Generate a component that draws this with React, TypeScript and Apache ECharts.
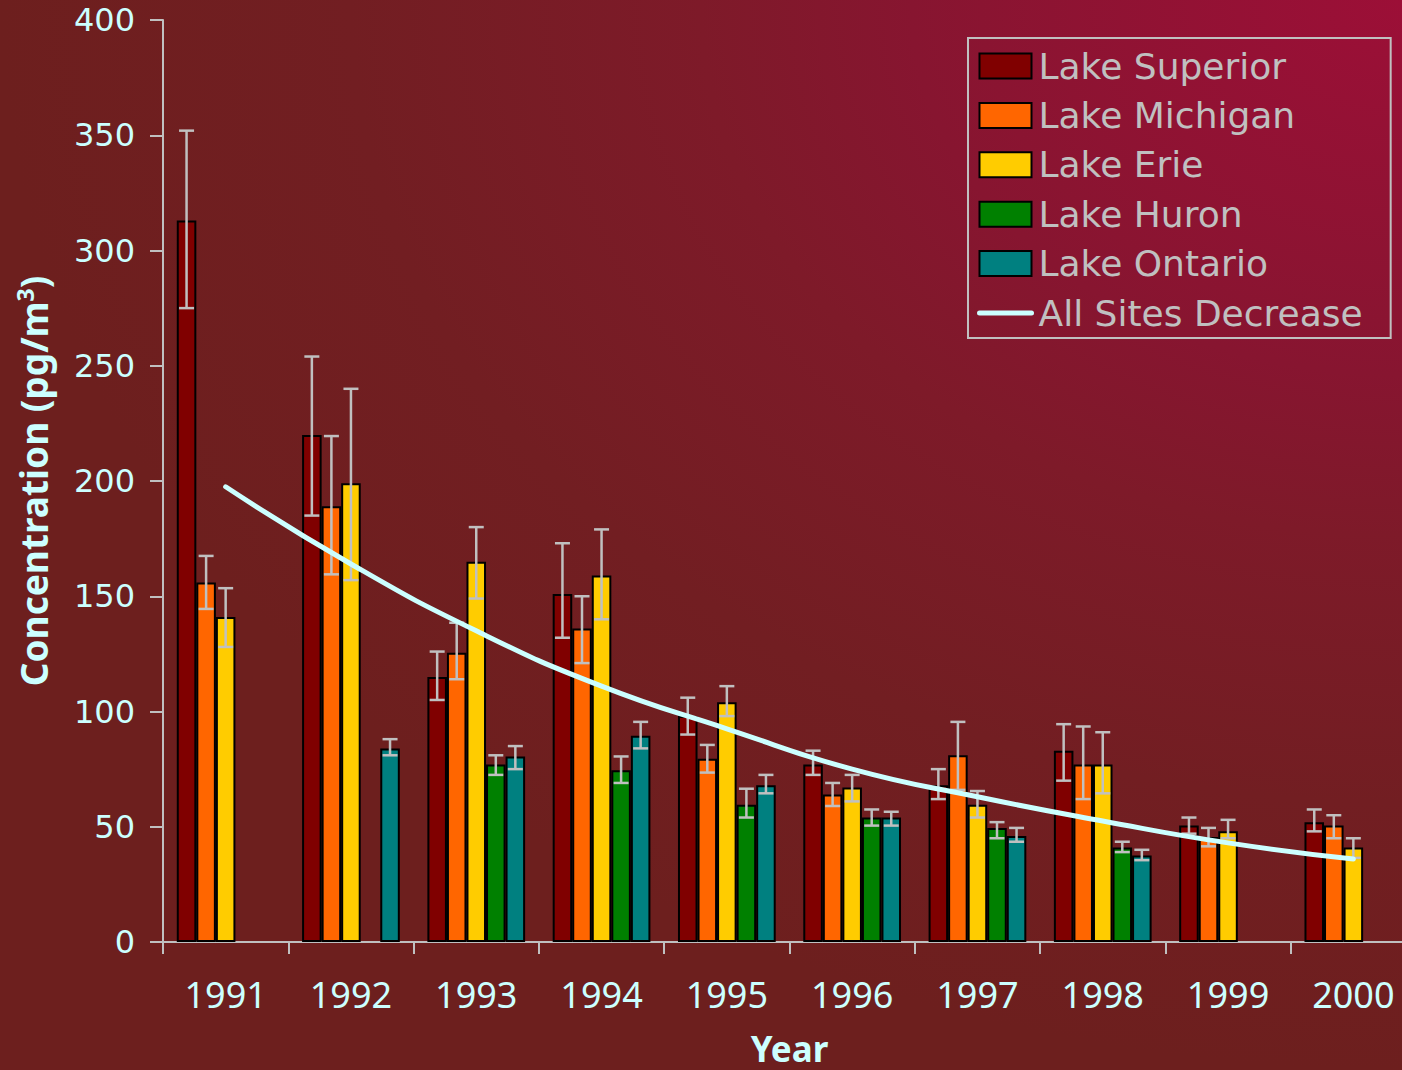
import React, { useEffect, useRef } from "react";
import * as echarts from "echarts";

const years = ["1991", "1992", "1993", "1994", "1995", "1996", "1997", "1998", "1999", "2000"];

const superior = [313, 220, 115, 151, 98, 77, 68, 83, 50.5, 52];
const superiorLow = [275, 185, 105, 132, 90, 72.5, 62, 70, 47, 48];
const superiorHigh = [352, 254, 126, 173, 106, 83, 75, 94.5, 54, 57.5];

const michigan = [156, 189, 125.5, 136, 79.5, 64, 81, 77, 45.5, 50.5];
const michiganLow = [144.5, 159.5, 114, 121, 73.5, 59, 66, 62, 41.5, 45];
const michiganHigh = [167.5, 219.5, 138.5, 150, 85.5, 69, 95.5, 93.5, 49.5, 55];

const erie = [141, 199, 165, 159, 104, 67, 59.5, 77, 48, 41];
const erieLow = [128, 157, 149, 140, 98, 61, 54, 64.5, 45, 36.5];
const erieHigh = [153.5, 240, 180, 179, 111, 72.5, 65.5, 91, 53, 45];

const huron = [null, null, 77, 74.5, 59.5, 54, 49.5, 41, null, null];
const huronLow = [null, null, 72.5, 69, 54, 50.5, 45, 39, null, null];
const huronHigh = [null, null, 81, 80.5, 66.5, 57.5, 52, 43.5, null, null];

const ontario = [null, 84, 80.5, 89.5, 68, 54, 46, 37.5, null, null];
const ontarioLow = [null, 81, 75, 84, 64.5, 50.5, 43.5, 35.5, null, null];
const ontarioHigh = [null, 88, 85, 95.5, 72.5, 56.5, 49.5, 40, null, null];

const trend = [197.5, 164, 135, 111, 92.5, 75, 63, 52.5, 43, 36];

const yTicks = { min: 0, max: 400, interval: 50 };

const lakes = [
  { name: "Lake Superior", color: "#800000", values: superior, low: superiorLow, high: superiorHigh },
  { name: "Lake Michigan", color: "#ff6600", values: michigan, low: michiganLow, high: michiganHigh },
  { name: "Lake Erie", color: "#ffcc00", values: erie, low: erieLow, high: erieHigh },
  { name: "Lake Huron", color: "#008000", values: huron, low: huronLow, high: huronHigh },
  { name: "Lake Ontario", color: "#008080", values: ontario, low: ontarioLow, high: ontarioHigh },
];

const CAT_GAP = 0.22;

export default function App() {
  const ref = useRef<HTMLDivElement>(null);
  useEffect(() => {
    document.body.style.margin = "0";
    const chart = echarts.init(ref.current!, null, { renderer: "svg" });

    const barSeries = lakes.map((l) => ({
      name: l.name,
      type: "bar",
      data: l.values.map((v) => (v == null ? "-" : v)),
      barGap: "0%",
      barCategoryGap: CAT_GAP * 100 + "%",
      itemStyle: { color: l.color, borderColor: "#000000", borderWidth: 2 },
      z: 2,
    }));

    const errSeries = lakes.map((l, i) => ({
      name: "err-" + l.name,
      type: "custom",
      z: 3,
      data: l.low
        .map((lo, k) => (lo == null ? null : [k, lo, l.high[k]]))
        .filter((d) => d != null),
      encode: { x: 0, y: [1, 2] },
      renderItem: (params: any, api: any) => {
        const x = api.value(0);
        const lo = api.value(1);
        const hi = api.value(2);
        const pLo = api.coord([x, lo]);
        const pHi = api.coord([x, hi]);
        const catW = api.size([1, 0])[0];
        const bw = (catW * (1 - CAT_GAP)) / lakes.length;
        const cx = pLo[0] + (i - (lakes.length - 1) / 2) * bw;
        const half = 7.5;
        const st = { stroke: "#c0c0c0", lineWidth: 2.5 };
        return {
          type: "group",
          children: [
            { type: "line", shape: { x1: cx, y1: pLo[1], x2: cx, y2: pHi[1] }, style: st },
            { type: "line", shape: { x1: cx - half, y1: pHi[1], x2: cx + half, y2: pHi[1] }, style: st },
            { type: "line", shape: { x1: cx - half, y1: pLo[1], x2: cx + half, y2: pLo[1] }, style: st },
          ],
        };
      },
    }));

    const option: any = {
      animation: false,
      graphic: [
        {
          type: "rect",
          z: -10,
          silent: true,
          shape: { x: 0, y: 0, width: 1402, height: 1070 },
          style: {
            fill: new echarts.graphic.RadialGradient(1, 0, 1, [
              { offset: 0, color: "#9c0f37" },
              { offset: 0.35, color: "#871530" },
              { offset: 0.5, color: "#7e1a29" },
              { offset: 0.75, color: "#721e22" },
              { offset: 1, color: "#6d1f1e" },
            ]),
          },
        },
      ],
      legend: {
        orient: "vertical",
        left: 968,
        top: 38,
        padding: [10, 28, 7, 9],
        itemGap: 13.4,
        itemWidth: 52,
        itemHeight: 25,
        borderColor: "#c0c0c0",
        borderWidth: 2,
        data: [
          { name: "Lake Superior", icon: "rect" },
          { name: "Lake Michigan", icon: "rect" },
          { name: "Lake Erie", icon: "rect" },
          { name: "Lake Huron", icon: "rect" },
          { name: "Lake Ontario", icon: "rect" },
          {
            name: "All Sites Decrease",
            itemStyle: { color: "rgba(0,0,0,0)", borderColor: "rgba(0,0,0,0)", opacity: 0 },
            lineStyle: { color: "#ccffff", width: 5, cap: "round" },
          },
        ],
        textStyle: {
          color: "#c0c0c0",
          fontSize: 36,
          lineHeight: 35,
          fontFamily: "DejaVu Sans",
          padding: [0, 0, 0, 2],
        },
      },
      grid: { left: 163, top: 20, width: 1253, height: 922, outerBoundsMode: "none", containLabel: false },
      xAxis: {
        type: "category",
        data: years,
        boundaryGap: true,
        name: "Year",
        nameLocation: "middle",
        nameGap: 90,
        nameTextStyle: {
          color: "#ccffff",
          fontSize: 35,
          lineHeight: 32,
          fontWeight: "bold",
          fontFamily: "Noto Sans",
        },
        axisLine: { show: true, lineStyle: { color: "#c0c0c0", width: 2 } },
        axisTick: { show: true, length: 12, lineStyle: { color: "#c0c0c0", width: 2 } },
        axisLabel: { color: "#ccffff", fontSize: 36, fontFamily: "Noto Sans", margin: 34 },
        splitLine: { show: false },
      },
      yAxis: {
        type: "value",
        min: yTicks.min,
        max: yTicks.max,
        interval: yTicks.interval,
        name: "Concentration (pg/m{sup|3})",
        nameLocation: "middle",
        nameGap: 109,
        nameRotate: 90,
        nameTextStyle: {
          color: "#ccffff",
          fontSize: 37,
          fontWeight: "bold",
          fontFamily: "Noto Sans",
          rich: {
            sup: {
              color: "#ccffff",
              fontSize: 23,
              fontWeight: "bold",
              fontFamily: "Noto Sans",
              padding: [0, 0, 18, 0],
            },
          },
        },
        axisLine: { show: true, lineStyle: { color: "#c0c0c0", width: 2 } },
        axisTick: { show: true, length: 13, lineStyle: { color: "#c0c0c0", width: 2 } },
        axisLabel: { color: "#ccffff", fontSize: 32, fontFamily: "DejaVu Sans", margin: 28 },
        splitLine: { show: false },
      },
      series: [
        ...barSeries,
        ...errSeries,
        {
          name: "All Sites Decrease",
          type: "line",
          data: trend,
          smooth: true,
          symbol: "none",
          showSymbol: false,
          z: 5,
          lineStyle: { color: "#ccffff", width: 5, cap: "round" },
          itemStyle: { color: "#ccffff" },
        },
      ],
    };
    chart.setOption(option);
    return () => chart.dispose();
  }, []);
  return <div ref={ref} style={{ width: 1402, height: 1070 }} />;
}
